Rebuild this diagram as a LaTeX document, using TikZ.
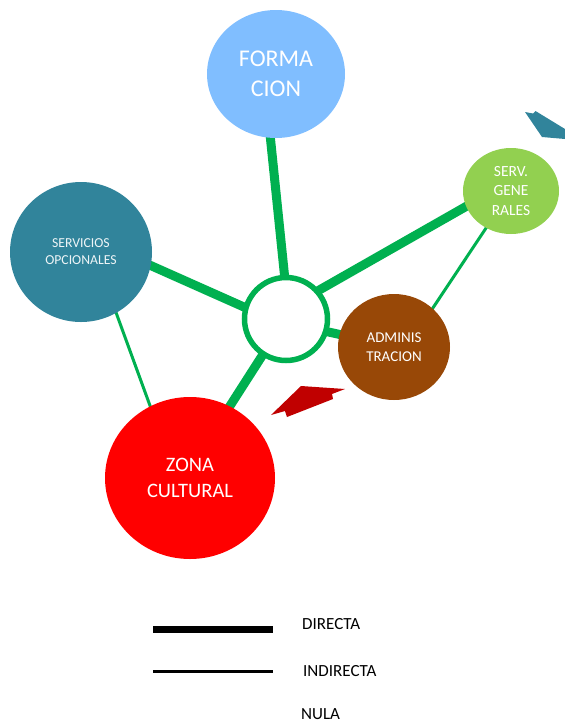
\documentclass[tikz,border=0pt]{standalone}
\usepackage{fontspec}
\setmainfont{Carlito}
\usetikzlibrary{shapes.geometric,calc,backgrounds}
\definecolor{lgreen}{HTML}{00B050}
\definecolor{formblue}{HTML}{80BEFF}
\definecolor{tealc}{HTML}{31849B}
\definecolor{sgreen}{HTML}{92D050}
\definecolor{brownc}{HTML}{984807}
\definecolor{redc}{HTML}{FF0000}
\definecolor{darkredc}{HTML}{C00000}
\begin{document}
\begin{tikzpicture}[x=1pt,y=-1pt,
  bub/.style={ellipse, inner sep=0pt, align=center, text=white},
  thickline/.style={draw=lgreen, line width=9pt},
  thinline/.style={draw=lgreen, line width=3pt},
  legtext/.style={anchor=west, inner sep=0pt, font=\fontsize{17}{20}\selectfont}
]
\useasboundingbox (0,0) rectangle (565,724);

% nodes
\node[bub, fill=formblue, minimum width=138pt, minimum height=128pt,
      font=\fontsize{24}{30}\selectfont] (form) at (276,74) {FORMA\\CION};
\node[bub, fill=tealc, minimum width=142pt, minimum height=140pt, text=white!92!tealc,
      font=\fontsize{13.7}{17}\selectfont] (opc) at (81,252) {SERVICIOS\\OPCIONALES};
\node[bub, fill=sgreen, minimum width=96pt, minimum height=86pt,
      font=\fontsize{15.5}{19.5}\selectfont] (sg) at (511,191) {SERV.\\GENE\\RALES};
\node[bub, fill=brownc, minimum width=112pt, minimum height=106pt,
      font=\fontsize{15}{19}\selectfont] (adm) at (394,347) {ADMINIS\\TRACION};
\node[bub, fill=redc, minimum width=170pt, minimum height=162pt,
      font=\fontsize{20.5}{26}\selectfont] (zona) at (190,478) {ZONA\\CULTURAL};
\node[circle, draw=lgreen, line width=5.5pt, fill=white, minimum size=83pt, inner sep=0pt] (hub) at (286,319) {};

% connectors
\begin{scope}[on background layer]
  \draw[thickline] ($(form.-95.4)!-10pt!(hub.92.8)$) -- ($(hub.92.8)!-10pt!(form.-95.4)$);
  \draw[thickline] ($(opc.-11.5)!-10pt!(hub.164.7)$) -- ($(hub.164.7)!-10pt!(opc.-11.5)$);
  \draw[thickline] ($(sg.-161.6)!-10pt!(hub.41)$) -- ($(hub.41)!-10pt!(sg.-161.6)$);
  \draw[thickline] ($(hub.-17.6)!-10pt!(adm.167.5)$) -- ($(adm.167.5)!-10pt!(hub.-17.6)$);
  \draw[thickline] ($(hub.-123.7)!-10pt!(zona.61.2)$) -- ($(zona.61.2)!-10pt!(hub.-123.7)$);
  \draw[thinline] ($(opc.-60.9)!-6pt!(zona.119)$) -- ($(zona.119)!-6pt!(opc.-60.9)$);
  \draw[thinline] ($(sg.-124)!-6pt!(adm.45)$) -- ($(adm.45)!-6pt!(sg.-124)$);
\end{scope}

% block shapes
\fill[darkredc] (271,415) -- (301,386) -- (345,389) -- (332,394) -- (333,399) -- (287,417) -- (285,411) -- cycle;
\fill[tealc] (525,112) -- (533,113.5) -- (535.5,111) -- (565,129) -- (565,139) -- (542,137) -- cycle;

% legend
\coordinate (d1) at (153,629.5);
\coordinate (d2) at (273,629.5);
\coordinate (i1) at (153,671.5);
\coordinate (i2) at (273,671.5);
\draw[line width=7.5pt] (d1) -- (d2);
\draw[line width=3pt] (i1) -- (i2);
\node[legtext] (tdir) at (302,624) {DIRECTA};
\node[legtext] (tind) at (303,671) {INDIRECTA};
\node[legtext] (tnul) at (301,714) {NULA};
\end{tikzpicture}
\end{document}
